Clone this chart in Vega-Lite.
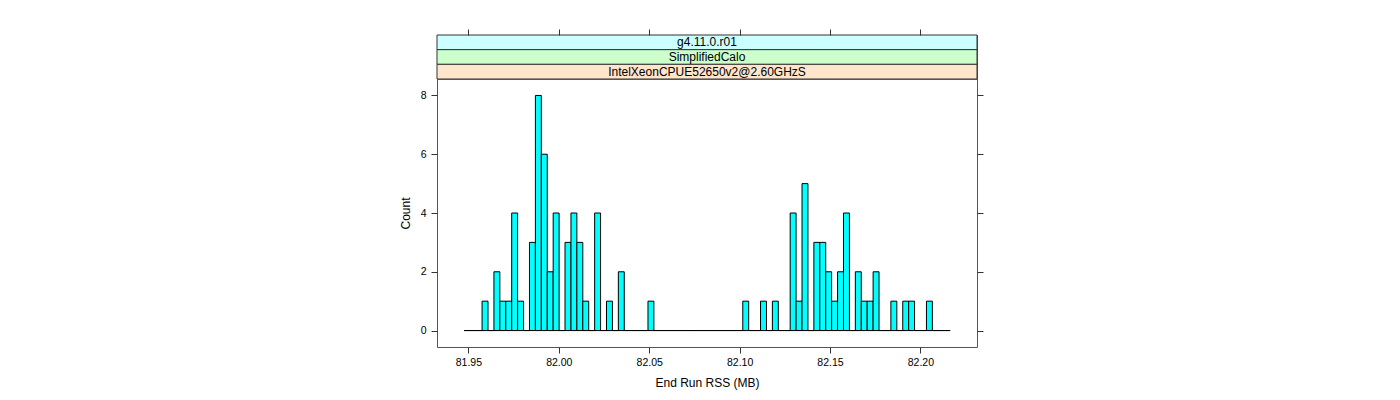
{
  "$schema": "https://vega.github.io/schema/vega-lite/v6.json",
  "background": "white",
  "padding": {"left": 398, "top": 28, "right": 5, "bottom": 5},
  "bounds": "flush",
  "spacing": 0,
  "config": {
    "font": "Liberation Sans",
    "view": {"stroke": "#555", "strokeWidth": 1},
    "axis": {
      "labelFont": "Liberation Sans",
      "labelFontSize": 10.5,
      "labelColor": "black",
      "tickColor": "#333",
      "tickSize": 6,
      "titleFont": "Liberation Sans",
      "titleFontSize": 12,
      "titleFontWeight": "normal",
      "titleColor": "black",
      "grid": false,
      "domain": false
    }
  },
  "datasets": {
    "strips": [
      {"label": "g4.11.0.r01"},
      {"label": "SimplifiedCalo"},
      {"label": "IntelXeonCPUE52650v2@2.60GHzS"}
    ],
    "bins": [
      {"lo": 81.94773, "hi": 81.95101, "count": 0},
      {"lo": 81.95101, "hi": 81.95428, "count": 0},
      {"lo": 81.95428, "hi": 81.95756, "count": 0},
      {"lo": 81.95756, "hi": 81.96084, "count": 1},
      {"lo": 81.96084, "hi": 81.96412, "count": 0},
      {"lo": 81.96412, "hi": 81.96739, "count": 2},
      {"lo": 81.96739, "hi": 81.97067, "count": 1},
      {"lo": 81.97067, "hi": 81.97395, "count": 1},
      {"lo": 81.97395, "hi": 81.97722, "count": 4},
      {"lo": 81.97722, "hi": 81.98050, "count": 1},
      {"lo": 81.98050, "hi": 81.98378, "count": 0},
      {"lo": 81.98378, "hi": 81.98705, "count": 3},
      {"lo": 81.98705, "hi": 81.99033, "count": 8},
      {"lo": 81.99033, "hi": 81.99361, "count": 6},
      {"lo": 81.99361, "hi": 81.99689, "count": 2},
      {"lo": 81.99689, "hi": 82.00016, "count": 4},
      {"lo": 82.00016, "hi": 82.00344, "count": 0},
      {"lo": 82.00344, "hi": 82.00672, "count": 3},
      {"lo": 82.00672, "hi": 82.00999, "count": 4},
      {"lo": 82.00999, "hi": 82.01327, "count": 3},
      {"lo": 82.01327, "hi": 82.01655, "count": 1},
      {"lo": 82.01655, "hi": 82.01982, "count": 0},
      {"lo": 82.01982, "hi": 82.02310, "count": 4},
      {"lo": 82.02310, "hi": 82.02638, "count": 0},
      {"lo": 82.02638, "hi": 82.02966, "count": 1},
      {"lo": 82.02966, "hi": 82.03293, "count": 0},
      {"lo": 82.03293, "hi": 82.03621, "count": 2},
      {"lo": 82.03621, "hi": 82.03949, "count": 0},
      {"lo": 82.03949, "hi": 82.04276, "count": 0},
      {"lo": 82.04276, "hi": 82.04604, "count": 0},
      {"lo": 82.04604, "hi": 82.04932, "count": 0},
      {"lo": 82.04932, "hi": 82.05259, "count": 1},
      {"lo": 82.05259, "hi": 82.05587, "count": 0},
      {"lo": 82.05587, "hi": 82.05915, "count": 0},
      {"lo": 82.05915, "hi": 82.06243, "count": 0},
      {"lo": 82.06243, "hi": 82.06570, "count": 0},
      {"lo": 82.06570, "hi": 82.06898, "count": 0},
      {"lo": 82.06898, "hi": 82.07226, "count": 0},
      {"lo": 82.07226, "hi": 82.07553, "count": 0},
      {"lo": 82.07553, "hi": 82.07881, "count": 0},
      {"lo": 82.07881, "hi": 82.08209, "count": 0},
      {"lo": 82.08209, "hi": 82.08536, "count": 0},
      {"lo": 82.08536, "hi": 82.08864, "count": 0},
      {"lo": 82.08864, "hi": 82.09192, "count": 0},
      {"lo": 82.09192, "hi": 82.09520, "count": 0},
      {"lo": 82.09520, "hi": 82.09847, "count": 0},
      {"lo": 82.09847, "hi": 82.10175, "count": 0},
      {"lo": 82.10175, "hi": 82.10503, "count": 1},
      {"lo": 82.10503, "hi": 82.10830, "count": 0},
      {"lo": 82.10830, "hi": 82.11158, "count": 0},
      {"lo": 82.11158, "hi": 82.11486, "count": 1},
      {"lo": 82.11486, "hi": 82.11813, "count": 0},
      {"lo": 82.11813, "hi": 82.12141, "count": 1},
      {"lo": 82.12141, "hi": 82.12469, "count": 0},
      {"lo": 82.12469, "hi": 82.12797, "count": 0},
      {"lo": 82.12797, "hi": 82.13124, "count": 4},
      {"lo": 82.13124, "hi": 82.13452, "count": 1},
      {"lo": 82.13452, "hi": 82.13780, "count": 5},
      {"lo": 82.13780, "hi": 82.14107, "count": 0},
      {"lo": 82.14107, "hi": 82.14435, "count": 3},
      {"lo": 82.14435, "hi": 82.14763, "count": 3},
      {"lo": 82.14763, "hi": 82.15090, "count": 2},
      {"lo": 82.15090, "hi": 82.15418, "count": 1},
      {"lo": 82.15418, "hi": 82.15746, "count": 2},
      {"lo": 82.15746, "hi": 82.16074, "count": 4},
      {"lo": 82.16074, "hi": 82.16401, "count": 0},
      {"lo": 82.16401, "hi": 82.16729, "count": 2},
      {"lo": 82.16729, "hi": 82.17057, "count": 1},
      {"lo": 82.17057, "hi": 82.17384, "count": 1},
      {"lo": 82.17384, "hi": 82.17712, "count": 2},
      {"lo": 82.17712, "hi": 82.18040, "count": 0},
      {"lo": 82.18040, "hi": 82.18367, "count": 0},
      {"lo": 82.18367, "hi": 82.18695, "count": 1},
      {"lo": 82.18695, "hi": 82.19023, "count": 0},
      {"lo": 82.19023, "hi": 82.19351, "count": 1},
      {"lo": 82.19351, "hi": 82.19678, "count": 1},
      {"lo": 82.19678, "hi": 82.20006, "count": 0},
      {"lo": 82.20006, "hi": 82.20334, "count": 0},
      {"lo": 82.20334, "hi": 82.20661, "count": 1},
      {"lo": 82.20661, "hi": 82.20989, "count": 0},
      {"lo": 82.20989, "hi": 82.21317, "count": 0},
      {"lo": 82.21317, "hi": 82.21644, "count": 0}
    ]
  },
  "vconcat": [
    {
      "width": 540,
      "height": 44,
      "data": {"name": "strips"},
      "layer": [
        {
          "mark": {"type": "rect", "stroke": "#333", "strokeWidth": 1},
          "encoding": {
            "y": {"field": "label", "type": "nominal", "sort": null, "scale": {"paddingInner": 0, "paddingOuter": 0}, "axis": null},
            "fill": {
              "field": "label", "type": "nominal",
              "scale": {"domain": ["g4.11.0.r01", "SimplifiedCalo", "IntelXeonCPUE52650v2@2.60GHzS"], "range": ["#ccffff", "#ccffcc", "#ffe5cc"]},
              "legend": null
            }
          }
        },
        {
          "mark": {"type": "text", "font": "Liberation Sans", "fontSize": 12, "color": "black", "baseline": "middle", "align": "center"},
          "encoding": {
            "y": {"field": "label", "type": "nominal", "sort": null, "scale": {"paddingInner": 0, "paddingOuter": 0}, "axis": null},
            "text": {"field": "label", "type": "nominal"}
          }
        }
      ]
    },
    {
      "width": 540,
      "height": 268,
      "data": {"name": "bins"},
      "layer": [
        {
          "mark": {"type": "rect", "fill": "#00ffff", "stroke": "black", "strokeWidth": 1},
          "encoding": {
            "x": {
              "field": "lo", "type": "quantitative",
              "scale": {"domain": [81.93263, 82.2313], "nice": false, "zero": false},
              "axis": {"orient": "bottom", "values": [81.95, 82.0, 82.05, 82.1, 82.15, 82.2], "format": ".2f", "title": "End Run RSS (MB)", "labelPadding": 4, "titlePadding": 10}
            },
            "x2": {"field": "hi"},
            "y": {
              "field": "count", "type": "quantitative",
              "scale": {"domain": [-0.56, 8.56], "nice": false, "zero": false},
              "axis": {"orient": "left", "values": [0, 2, 4, 6, 8], "title": "Count", "labelPadding": 5, "titlePadding": 8}
            },
            "y2": {"datum": 0}
          }
        },
        {
          "mark": {"type": "rule", "color": "black", "strokeWidth": 1},
          "encoding": {
            "x": {
              "aggregate": "min", "field": "lo", "type": "quantitative",
              "scale": {"domain": [81.93263, 82.2313], "nice": false, "zero": false},
              "axis": {"orient": "top", "values": [81.95, 82.0, 82.05, 82.1, 82.15, 82.2], "labels": false, "title": null, "offset": 44}
            },
            "x2": {"aggregate": "max", "field": "hi"},
            "y": {
              "datum": 0, "type": "quantitative",
              "axis": {"orient": "right", "values": [0, 2, 4, 6, 8], "labels": false, "title": null}
            }
          }
        }
      ]
    }
  ]
}
